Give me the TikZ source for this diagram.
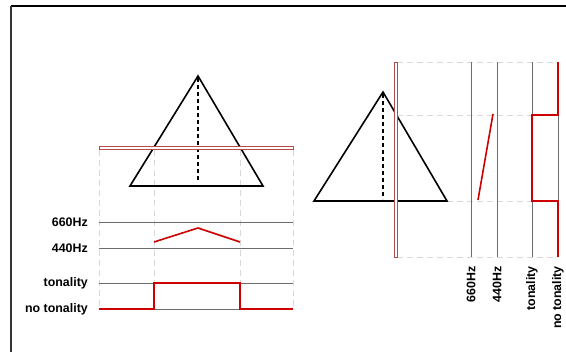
\documentclass[tikz,border=0pt]{standalone}
\usepackage{fontspec}
\setmainfont{Liberation Sans}
\begin{document}
\begin{tikzpicture}[x=1pt,y=-1pt,
  tri/.style={line width=1.6pt,black},
  axisdash/.style={line width=1.6pt,black,dash pattern=on 4pt off 3pt},
  guide/.style={gray!30,line width=0.8pt,dash pattern=on 6pt off 4pt},
  level/.style={gray!85!black,line width=0.8pt},
  sig/.style={red!80!black,line width=1.6pt},
  bar/.style={draw=red!60!black!70,line width=0.6pt,fill=white},
  lbl/.style={font=\bfseries\fontsize{12.4}{13}\selectfont,inner sep=0pt}]
\useasboundingbox (0,0) rectangle (566,352);
% frame
\draw[black,line width=1.3pt] (11,6) -- (566,6);
\draw[gray!40!black,line width=1.8pt] (11,6) -- (11,352);

% ===== left diagram =====
\foreach \x in {99,154,240,293} \draw[guide] (\x,150) -- (\x,309);
\foreach \y in {222,248,283,309} \draw[level] (99,\y) -- (293,\y);
\draw[tri] (198,76) -- (130,186) -- (263,186) -- cycle;
\draw[axisdash] (198,78) -- (198,182);
\draw[bar] (99,146) rectangle (293,149);
\draw[sig] (154,242) -- (198,228) -- (240,242);
\draw[sig] (99,309) -- (154,309) -- (154,283) -- (240,283) -- (240,309) -- (293,309);
\node[lbl,anchor=east] (l660) at (88,222) {660Hz};
\node[lbl,anchor=east] (l440) at (88,248) {440Hz};
\node[lbl,anchor=east] (lton) at (88,283) {tonality};
\node[lbl,anchor=east] (lnot) at (88,309) {no tonality};

% ===== right diagram =====
\foreach \y in {62,115,201,257} \draw[guide] (397,\y) -- (558,\y);
\foreach \x in {471,497,532,558} \draw[level] (\x,62) -- (\x,257);
\draw[tri] (383,92) -- (314,201) -- (447,201) -- cycle;
\draw[axisdash] (383,94) -- (383,199);
\draw[bar] (394,62) rectangle (397,257);
\draw[sig] (478,200) -- (493,114);
\draw[sig] (558,62) -- (558,115) -- (532,115) -- (532,201) -- (558,201) -- (558,257);
\node[lbl,anchor=east,rotate=90] (r660) at (471,266) {660Hz};
\node[lbl,anchor=east,rotate=90] (r440) at (497,266) {440Hz};
\node[lbl,anchor=east,rotate=90] (rton) at (532,266) {tonality};
\node[lbl,anchor=east,rotate=90] (rnot) at (558,266) {no tonality};
\end{tikzpicture}
\end{document}
